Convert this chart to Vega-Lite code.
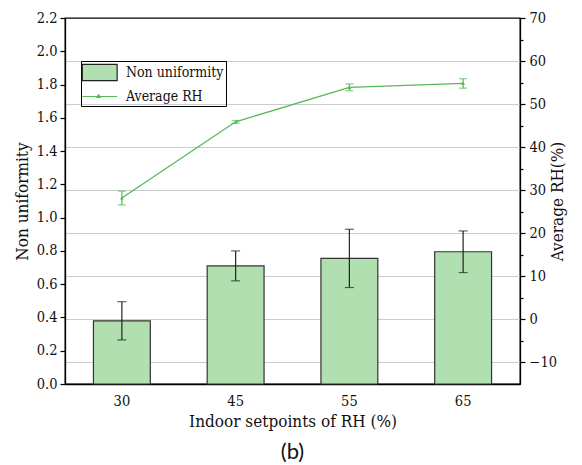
{
  "$schema": "https://vega.github.io/schema/vega-lite/v6.json",
  "width": 455,
  "height": 366,
  "autosize": {"type": "none"},
  "padding": {"left": 65, "top": 18, "right": 62, "bottom": 81},
  "background": "white",
  "title": {"text": "(b)", "orient": "bottom", "anchor": "middle", "font": "Lato", "fontSize": 22, "fontWeight": "normal", "color": "#111", "offset": 12},
  "config": {
    "view": {"stroke": "black", "strokeWidth": 1.3},
    "axis": {"labelFont": "DejaVu Serif Condensed, DejaVu Serif", "titleFont": "DejaVu Serif Condensed, DejaVu Serif", "labelFontSize": 14.5, "titleFontSize": 17, "titleFontWeight": "normal", "labelColor": "#111", "titleColor": "#111", "domainColor": "black", "tickColor": "black", "domainWidth": 1.3, "tickWidth": 1.2},
    "legend": {"labelFont": "DejaVu Serif Condensed, DejaVu Serif"}
  },
  "data": {"values": [
    {"rh": "30", "nu": 0.38, "nu_err": 0.115, "avg": 28.2, "avg_err": 1.6},
    {"rh": "45", "nu": 0.71, "nu_err": 0.09, "avg": 45.9, "avg_err": 0.3},
    {"rh": "55", "nu": 0.755, "nu_err": 0.175, "avg": 53.9, "avg_err": 0.8},
    {"rh": "65", "nu": 0.795, "nu_err": 0.125, "avg": 54.8, "avg_err": 1.1}
  ]},
  "encoding": {
    "x": {"field": "rh", "type": "nominal", "sort": null,
      "scale": {"paddingInner": 0.5, "paddingOuter": 0.25},
      "axis": {"title": "Indoor setpoints of RH (%)", "labelAngle": 0, "ticks": false, "labelPadding": 10, "titlePadding": 6}}
  },
  "layer": [
    {
      "encoding": {
        "y": {"field": "nu", "type": "quantitative",
          "scale": {"domain": [0, 2.2], "nice": false, "zero": true},
          "axis": {"title": "Non uniformity", "values": [0, 0.2, 0.4, 0.6, 0.8, 1.0, 1.2, 1.4, 1.6, 1.8, 2.0, 2.2], "format": ".1f", "grid": false, "tickSize": 5, "labelPadding": 3, "titlePadding": 5}}
      },
      "layer": [
        {
          "mark": {"type": "bar", "stroke": "#333", "strokeWidth": 1.2},
          "encoding": {
            "fill": {"datum": "Non uniformity", "type": "nominal",
              "scale": {"domain": ["Non uniformity", "Average RH"], "range": ["#b1dfb0", "#55b955"]},
              "legend": {
                "title": null,
                "orient": "none", "legendX": 16, "legendY": 43,
                "strokeColor": "black", "padding": 2,
                "labelFontSize": 14, "labelColor": "#111",
                "symbolType": {"expr": "datum.value === 'Non uniformity' ? 'M-1.2,-0.95L2.9,-0.95L2.9,0.95L-1.2,0.95Z' : 'M-1.2,0L2.9,0M0.72,-0.2L0.92,0.12L0.52,0.12Z'"},
                "symbolStrokeColor": {"expr": "datum.value === 'Non uniformity' ? '#222' : '#55b955'"},
                "symbolStrokeWidth": 1.2,
                "symbolSize": 289, "labelOffset": 24, "rowPadding": 4}}
          }
        },
        {
          "mark": {"type": "errorbar", "ticks": {"size": 9, "color": "#222", "thickness": 1.2}, "rule": {"color": "#222", "strokeWidth": 1.2}},
          "encoding": {"yError": {"field": "nu_err"}}
        }
      ]
    },
    {
      "encoding": {
        "y": {"field": "avg", "type": "quantitative",
          "scale": {"domain": [-15, 70], "nice": false, "zero": false},
          "axis": {"orient": "right", "title": "Average RH(%)", "titleAngle": -90, "titlePadding": 10,
            "values": [-10, -5, 0, 5, 10, 15, 20, 25, 30, 35, 40, 45, 50, 55, 60, 65, 70],
            "labelExpr": "datum.value % 10 === 0 ? datum.label : ''",
            "tickSize": {"condition": {"test": "datum.value % 10 !== 0", "value": 3}, "value": 5},
            "grid": true, "gridColor": "#cccccc", "gridWidth": 1.2,
            "gridOpacity": {"condition": {"test": "datum.value % 10 !== 0 || datum.value === 70", "value": 0}, "value": 1},
            "labelPadding": 4}}
      },
      "layer": [
        {
          "mark": {"type": "line", "strokeWidth": 1.3, "color": "#55b955"}
        },
        {
          "mark": {"type": "point", "shape": "triangle-up", "filled": true, "size": 14, "color": "#55b955", "opacity": 1}
        },
        {
          "mark": {"type": "errorbar", "ticks": {"size": 8, "color": "#55b955", "thickness": 1.2}, "rule": {"color": "#55b955", "strokeWidth": 1.2}},
          "encoding": {"yError": {"field": "avg_err"}}
        }
      ]
    }
  ],
  "resolve": {"scale": {"y": "independent"}}
}
